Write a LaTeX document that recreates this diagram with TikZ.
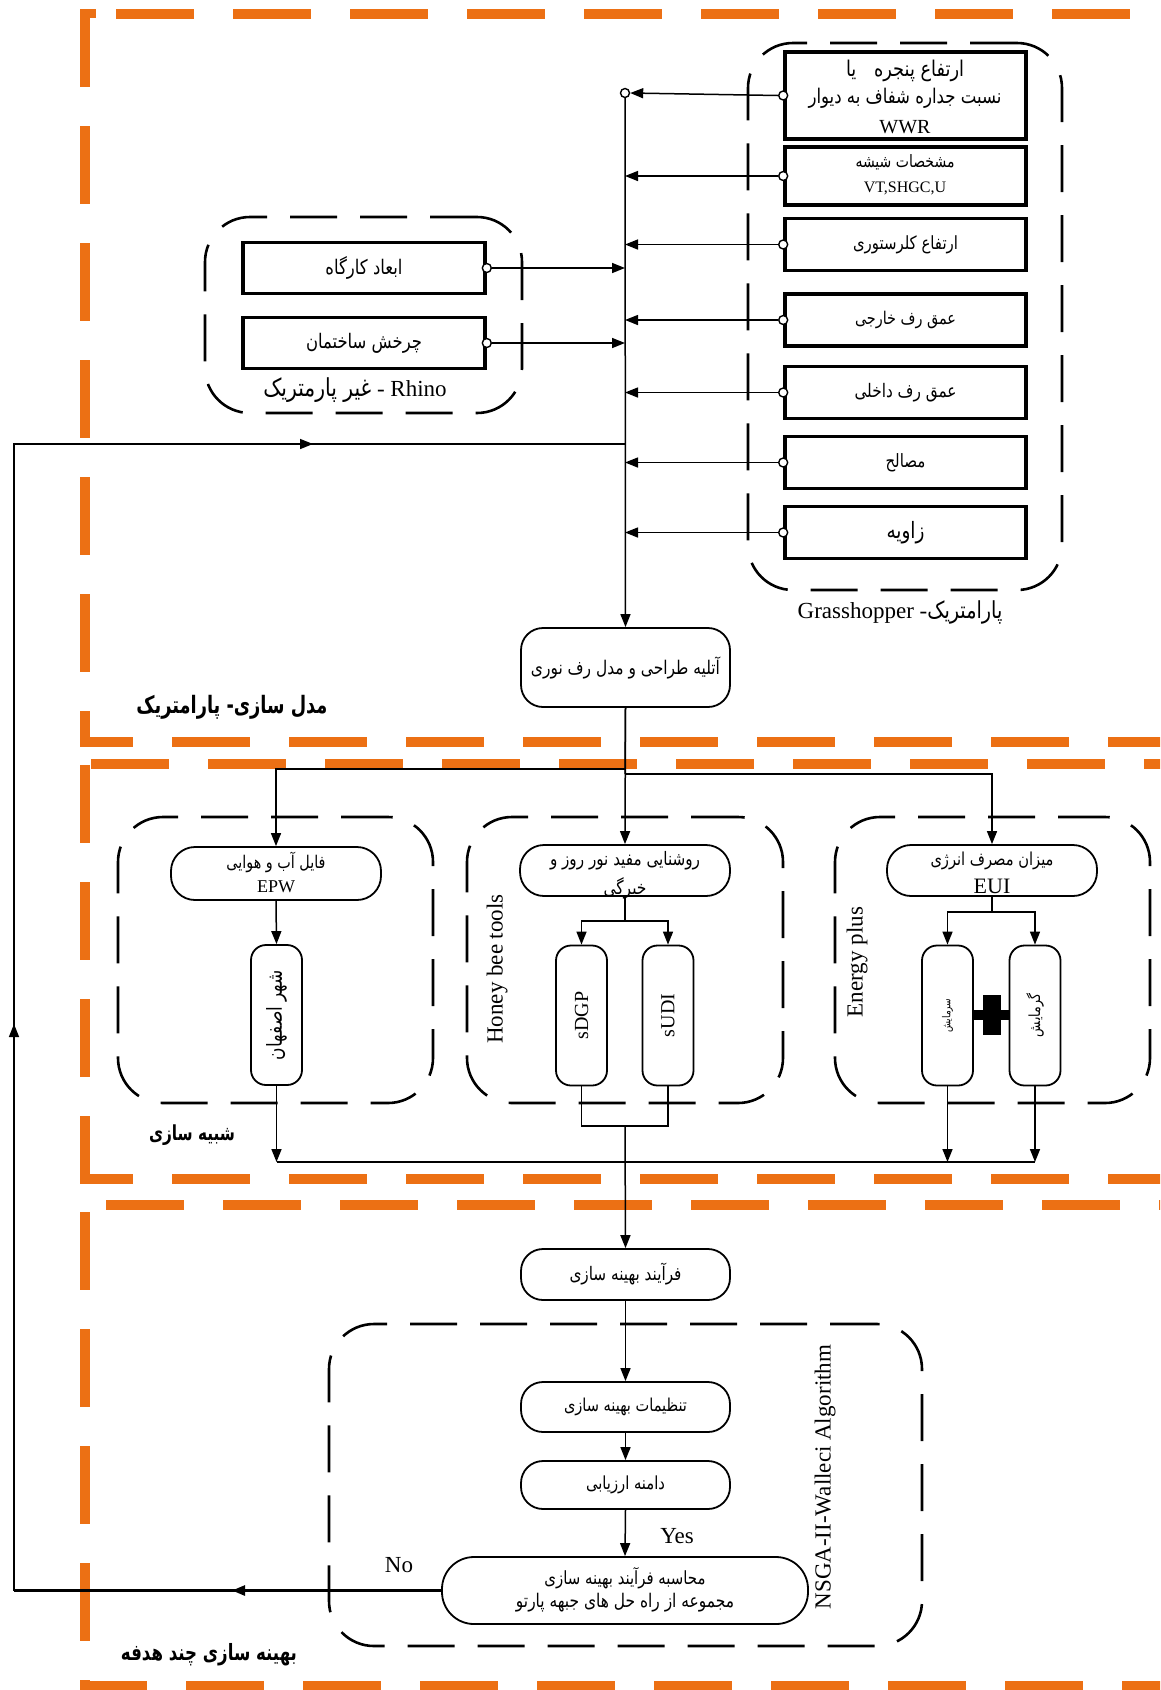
\documentclass[tikz,border=0pt]{standalone}
\usepackage{fontspec}
\usepackage{graphicx}
\setmainfont{Liberation Serif}
\newfontfamily\fa[Script=Arabic]{DejaVu Sans}
\TeXXeTstate=1
\usetikzlibrary{arrows.meta,calc}
\definecolor{orng}{RGB}{236,112,20}
\newcommand{\fw}[2]{\scalebox{1}[1.22]{\resizebox{#1pt}{!}{\fa #2}}}
\newcommand{\fwb}[2]{\scalebox{1}[1.35]{\resizebox{#1pt}{!}{\fa\bfseries #2}}}
\begin{document}
\begin{tikzpicture}[x=1pt,y=-1pt,
  sq/.style={draw, line width=3.6pt, fill=white, minimum width=241pt, minimum height=52pt, inner sep=0pt},
  rb/.style={draw, line width=1.8pt, fill=white, rounded corners=22pt, minimum width=209pt, minimum height=51pt, inner sep=0pt},
  vb/.style={draw, line width=1.8pt, fill=white, rounded corners=15pt, minimum width=51pt, minimum height=140pt, inner sep=0pt},
  grp/.style={draw, line width=2.6pt, dash pattern=on 47pt off 23pt, rounded corners=45pt, inner sep=0pt},
  ln/.style={line width=1.5pt},
  arr/.style={line width=1.5pt, -{Triangle[length=13pt,width=10pt]}},
  port/.style={circle, draw, line width=1.4pt, fill=white, inner sep=0pt, minimum size=9pt},
  txt/.style={inner sep=0pt},
  lat/.style={inner sep=0pt, font=\fontsize{20}{24}\selectfont},
  big/.style={inner sep=0pt, font=\fontsize{23}{27}\selectfont},
  obord/.style={draw=orng, line width=10pt, dash pattern=on 78pt off 39pt}]
\useasboundingbox (0,0) rectangle (1160,1690);
\clip (0,0) rectangle (1160,1690);
\fill[white] (0,0) rectangle (1160,1690);

% ---------- orange section borders ----------
\draw[obord] (84.5,9) -- (84.5,742);
\draw[obord] (116,13.5) -- (1170,13.5);
\fill[orng] (80,9) rectangle (96,18);
\fill[orng] (80,737) rectangle (133,747);
\draw[obord] (172,742) -- (1170,742);

\draw[obord] (91,763.5) -- (1170,763.5);
\draw[obord] (84.5,765) -- (84.5,1179);
\fill[orng] (80,1174) rectangle (133,1184);
\draw[obord] (172,1179) -- (1170,1179);

\draw[obord] (106,1205) -- (1170,1205);
\draw[obord] (84.5,1212) -- (84.5,1690);
\fill[orng] (80,1681) rectangle (147,1691);
\draw[obord] (186,1686) -- (1170,1686);

% ---------- dashed groups ----------
\node[grp, minimum width=314pt, minimum height=547pt] (gh) at (905,316.5) {};
\node[grp, minimum width=317pt, minimum height=196pt] (rh) at (363.5,315) {};
\node[grp, minimum width=315pt, minimum height=286pt] (gepw) at (275.5,960) {};
\node[grp, minimum width=316pt, minimum height=286pt] (ghb) at (625,960) {};
\node[grp, minimum width=315pt, minimum height=286pt] (gep) at (992.5,960) {};
\node[grp, minimum width=593pt, minimum height=322pt] (gns) at (625.5,1485) {};

% ---------- Grasshopper boxes ----------
\node[sq, minimum height=87pt] (wwr) at (905.5,95.5) {};
\node[txt] (wwr1) at (905,71) {\fw{118}{\beginR ارتفاع پنجره\quad یا\endR}};
\node[txt] (wwr2) at (905,98) {\fw{193}{\beginR نسبت جداره شفاف به دیوار\endR}};
\node[lat] (wwr3) at (905,127) {WWR};
\node[sq, minimum height=58pt] (gls) at (905.5,176) {};
\node[txt] (gls1) at (905,162) {\fw{99}{\beginR مشخصات شیشه\endR}};
\node[txt, font=\fontsize{16}{18}\selectfont] (gls2) at (905,188) {VT,SHGC,U};
\node[sq] (clr) at (905.5,244.5) {\fw{105}{\beginR ارتفاع کلرستوری\endR}};
\node[sq] (ext) at (905.5,320) {\fw{101}{\beginR عمق رف خارجی\endR}};
\node[sq] (int) at (905.5,392.5) {\fw{102}{\beginR عمق رف داخلی\endR}};
\node[sq] (mat) at (905.5,462.5) {\fw{40}{\beginR مصالح\endR}};
\node[sq] (ang) at (905.5,532.5) {\fw{38}{\beginR زاویه\endR}};
\node[big] (ghl) at (900,612) {Grasshopper -\fw{75}{\beginR پارامتریک\endR}};

% ---------- Rhino boxes ----------
\node[sq, minimum width=242pt, minimum height=51pt] (r1) at (364,268) {\fw{77}{\beginR ابعاد کارگاه\endR}};
\node[sq, minimum width=242pt, minimum height=51pt] (r2) at (364,343) {\fw{116}{\beginR چرخش ساختمان\endR}};
\node[big] (rhl) at (355,390) {\fw{108}{\beginR غیر پارمتریک\endR} - Rhino};

% ---------- ports and bus ----------
\node[port] (ptop) at (625,93) {};
\node[port] (p1) at (wwr.west) {};
\node[port] (p2) at (gls.west) {};
\node[port] (p3) at (clr.west) {};
\node[port] (p4) at (ext.west) {};
\node[port] (p5) at (int.west) {};
\node[port] (p6) at (mat.west) {};
\node[port] (p7) at (ang.west) {};
\node[port] (q1) at (r1.east) {};
\node[port] (q2) at (r2.east) {};

\node[rb, minimum height=79pt] (atl) at (625.5,667.5) {\fw{189}{\beginR آتلیه طراحی و مدل رف نوری\endR}};
\node[txt] (lab1) at (232,707) {\fwb{191}{\beginR مدل سازی- پارامتریک\endR}};

\draw[arr] (p1.west) -- (ptop.east);
\foreach \p in {p2,p3,p4,p5,p6,p7} \draw[arr] (\p.west) -- (\p.west -| ptop.center);
\draw[arr] (q1.east) -- (q1.east -| ptop.center);
\draw[arr] (q2.east) -- (q2.east -| ptop.center);
\draw[arr] (ptop.south) -- (atl.north);

% ---------- simulation ----------
\node[rb, minimum width=210pt, minimum height=53pt, rounded corners=24pt] (epw) at (276,873.5) {};
\node[txt] (epw1) at (276,862) {\fw{99}{\beginR فایل آب و هوایی\endR}};
\node[txt, font=\fontsize{18}{20}\selectfont] (epw2) at (276,887) {EPW};
\node[vb] (esf) at (276.5,1015) {\rotatebox{90}{\fw{90}{\beginR شهر اصفهان\endR}}};

\node[rb, minimum width=210pt, rounded corners=24pt] (hb) at (625,870.5) {};
\node[txt] (hb1) at (625,861) {\fw{150}{\beginR روشنایی مفید نور روز و\endR}};
\node[txt] (hb2) at (625,888) {\fw{43}{\beginR خیرگی\endR}};
\node[vb] (sdgp) at (581.5,1015.5) {\rotatebox{90}{\fontsize{20}{24}\selectfont sDGP}};
\node[vb] (sudi) at (668,1015.5) {\rotatebox{90}{\fontsize{20}{24}\selectfont sUDI}};
\node[big, rotate=90] (hbl) at (497,969) {Honey bee tools};

\node[rb, minimum width=210pt, rounded corners=24pt] (eui) at (992,870.5) {};
\node[txt] (eui1) at (992,861) {\fw{123}{\beginR میزان مصرف انرژی\endR}};
\node[txt, font=\fontsize{22}{24}\selectfont] (eui2) at (992,886) {EUI};
\node[vb] (sarma) at (947.5,1015.5) {\rotatebox{90}{\fw{34}{\beginR سرمایش\endR}}};
\node[vb] (garma) at (1035,1015.5) {\rotatebox{90}{\fw{43}{\beginR گرمایش\endR}}};
\node[big, rotate=90] (epl) at (857,962) {Energy plus};
\fill (sarma.east |- 0,1010) rectangle (garma.west |- 0,1020);
\fill (983,995) rectangle (1001,1035);
\node[txt] (lab2) at (192,1135) {\fwb{86}{\beginR شبیه سازی\endR}};

\coordinate (j1) at (625,769);
\coordinate (j2) at (625,774);
\draw[ln] (atl.south) -- (j2);
\draw[arr] (j1) -| (epw.north);
\draw[arr] (j2) -| (eui.north);
\draw[arr] (atl.south) -- (hb.north);
\draw[arr] (epw.south) -- (esf.north);

\coordinate (hbj) at (625,921);
\draw[ln] (hb.south) -- (hbj);
\draw[arr] (hbj) -| (sdgp.north);
\draw[arr] (hbj) -| (sudi.north);
\coordinate (euj) at (992,912);
\draw[ln] (eui.south) -- (euj);
\draw[arr] (euj) -| (sarma.north);
\draw[arr] (euj) -| (garma.north);

\coordinate (hbb) at (625,1126);
\draw[ln] (sdgp.south) |- (hbb) -| (sudi.south);
\coordinate (mL) at (276.5,1162);
\coordinate (mR) at (1035,1162);
\draw[ln] (mL) -- (mR);
\draw[arr] (esf.south) -- (esf.south |- mL);
\draw[arr] (sarma.south) -- (sarma.south |- mL);
\draw[arr] (garma.south) -- (garma.south |- mL);

% ---------- optimisation ----------
\node[rb] (fr) at (625.5,1274.5) {\fw{112}{\beginR فرآیند بهینه سازی\endR}};
\node[rb, minimum height=50pt] (tn) at (625.5,1407) {\fw{123}{\beginR تنظیمات بهینه سازی\endR}};
\node[rb, minimum height=48pt] (dm) at (625.5,1485) {\fw{79}{\beginR دامنه ارزیابی\endR}};
\node[rb, minimum width=366pt, minimum height=67pt, rounded corners=32pt] (calc) at (625,1590.5) {};
\node[txt] (calc1) at (625,1578) {\fw{161}{\beginR محاسبه فرآیند بهینه سازی\endR}};
\node[txt] (calc2) at (625,1603) {\fw{218}{\beginR مجموعه از راه حل های جبهه پارتو\endR}};
\node[big, rotate=90] (nsl) at (825,1477) {NSGA-II-Walleci Algorithm};
\node[big] (yes) at (677,1536) {Yes};
\node[big] (no) at (399,1565) {No};
\node[txt] (lab3) at (209,1655) {\fwb{176}{\beginR بهینه سازی چند هدفه\endR}};

\draw[arr] (hbb) -- (fr.north);
\draw[arr] (fr.south) -- (tn.north);
\draw[arr] (tn.south) -- (dm.north);
\draw[arr] (dm.south) -- (calc.north);

% ---------- feedback loop ----------
\coordinate (fbBL) at (14,1590.5);
\coordinate (fbTL) at (14,444);
\coordinate (fbJ) at (625,444);
\coordinate (fbM1) at (313,444);
\coordinate (fbM2) at (14,1024);
\coordinate (fbM3) at (232,1590.5);
\draw[line width=2.6pt] (calc.west) -- (fbBL);
\draw[arr, line width=2.6pt] (calc.west) -- (fbM3);
\draw[ln] (fbBL) -- (fbTL) -- (fbJ);
\draw[arr] (fbBL) -- (fbM2);
\draw[arr] (fbTL) -- (fbM1);
\end{tikzpicture}
\end{document}
